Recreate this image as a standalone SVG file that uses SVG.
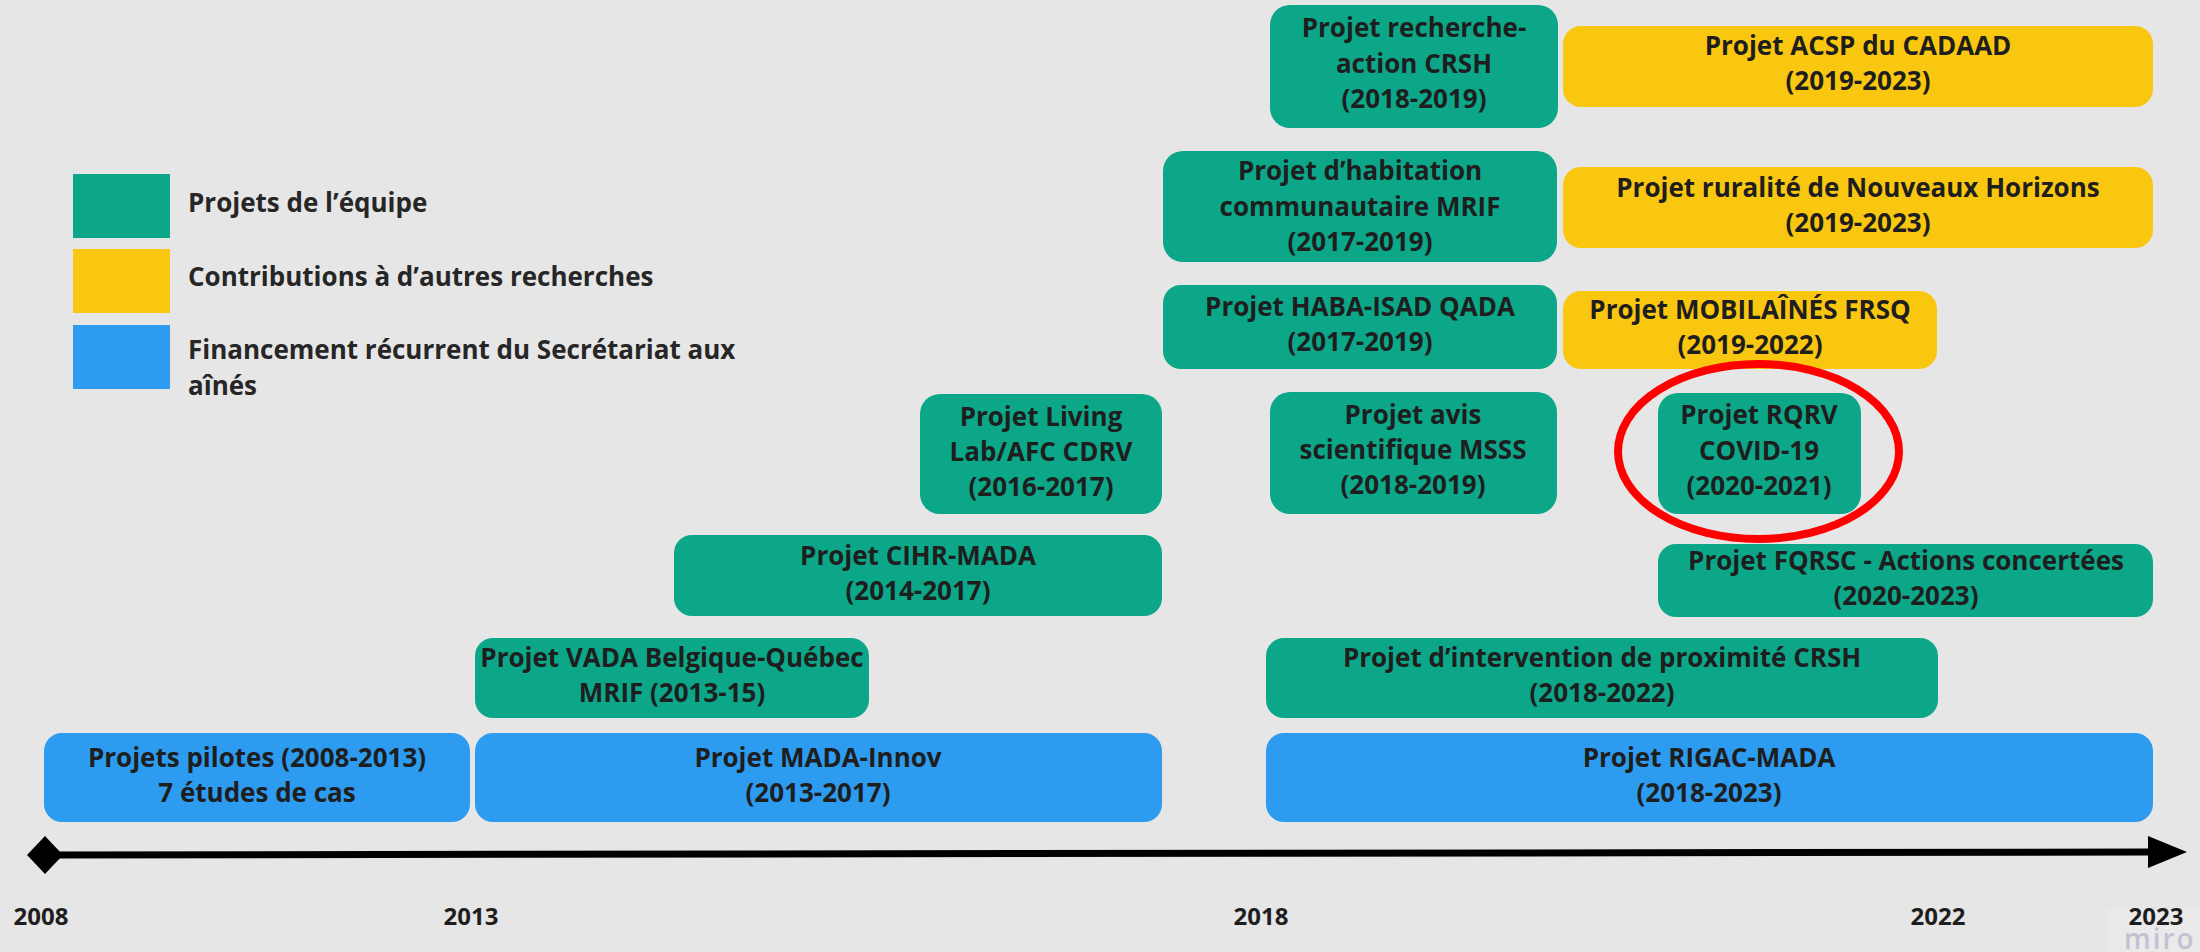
<svg xmlns="http://www.w3.org/2000/svg" width="2200" height="952" viewBox="0 0 2200 952">
<defs>
<style>
.bg{fill:#e6e6e6}
.g{fill:#0ca789}
.y{fill:#fac710}
.b{fill:#2d9bf0}
text{font-family:"Open Sans","Noto Sans","Liberation Sans",sans-serif;font-weight:700;font-size:26px;fill:#1e1e1e}
.c{text-anchor:middle}
.yr{font-size:24px;text-anchor:middle}
.leg{fill:#262626}
.miro{font-weight:600;font-size:28px;fill:#c6c1d2;letter-spacing:2px}
</style>
<marker id="diamond" markerUnits="userSpaceOnUse" markerWidth="40" markerHeight="40" viewBox="-20 -20 40 40" refX="0" refY="0" orient="auto">
<polygon points="-18,0 0,-19 18,0 0,19" fill="#000"/>
</marker>
<marker id="arrow" markerUnits="userSpaceOnUse" markerWidth="44" markerHeight="40" viewBox="0 -20 44 40" refX="2" refY="0" orient="auto">
<polygon points="0,-16 39,0 0,16" fill="#000"/>
</marker>
</defs>
<rect class="bg" x="0" y="0" width="2200" height="952"/>

<g id="watermark">
<rect x="2107" y="909" width="93" height="43" fill="#eaeaea"/>
<text class="miro" x="2124" y="949">miro</text>
</g>

<g id="legend">
<rect class="g" x="73" y="174" width="97" height="64"/>
<rect class="y" x="73" y="249" width="97" height="64"/>
<rect class="b" x="73" y="325" width="97" height="64"/>
<text class="leg" x="188" y="212">Projets de l’équipe</text>
<text class="leg" x="188" y="286">Contributions à d’autres recherches</text>
<text class="leg" x="188" y="359">Financement récurrent du Secrétariat aux</text>
<text class="leg" x="188" y="395">aînés</text>
</g>

<g id="connectors">
<line x1="45" y1="855" x2="2150" y2="852" stroke="#000" stroke-width="7" marker-start="url(#diamond)" marker-end="url(#arrow)"/>
</g>

<g id="years">
<text class="yr" x="41" y="925">2008</text>
<text class="yr" x="471" y="925">2013</text>
<text class="yr" x="1261" y="925">2018</text>
<text class="yr" x="1938" y="925">2022</text>
<text class="yr" x="2156" y="925">2023</text>
</g>

<g id="n-pilotes">
<rect class="b" x="44" y="733" width="426" height="89" rx="18"/>
<text class="c" x="257" y="767">Projets pilotes (2008-2013)</text>
<text class="c" x="257" y="802">7 études de cas</text>
</g>
<g id="n-mada-innov">
<rect class="b" x="475" y="733" width="687" height="89" rx="18"/>
<text class="c" x="818" y="767">Projet MADA-Innov</text>
<text class="c" x="818" y="802">(2013-2017)</text>
</g>
<g id="n-rigac">
<rect class="b" x="1266" y="733" width="887" height="89" rx="18"/>
<text class="c" x="1709" y="767">Projet RIGAC-MADA</text>
<text class="c" x="1709" y="802">(2018-2023)</text>
</g>
<g id="n-vada">
<rect class="g" x="475" y="638" width="394" height="80" rx="18"/>
<text class="c" x="672" y="667">Projet VADA Belgique-Québec</text>
<text class="c" x="672" y="702">MRIF (2013-15)</text>
</g>
<g id="n-proximite">
<rect class="g" x="1266" y="638" width="672" height="80" rx="18"/>
<text class="c" x="1602" y="667">Projet d’intervention de proximité CRSH</text>
<text class="c" x="1602" y="702">(2018-2022)</text>
</g>
<g id="n-cihr">
<rect class="g" x="674" y="535" width="488" height="81" rx="18"/>
<text class="c" x="918" y="565">Projet CIHR-MADA</text>
<text class="c" x="918" y="600">(2014-2017)</text>
</g>
<g id="n-fqrsc">
<rect class="g" x="1658" y="544" width="495" height="73" rx="18"/>
<text class="c" x="1906" y="570">Projet FQRSC - Actions concertées</text>
<text class="c" x="1906" y="605">(2020-2023)</text>
</g>
<g id="n-livinglab">
<rect class="g" x="920" y="394" width="242" height="120" rx="20"/>
<text class="c" x="1041" y="426">Projet Living</text>
<text class="c" x="1041" y="461">Lab/AFC CDRV</text>
<text class="c" x="1041" y="496">(2016-2017)</text>
</g>
<g id="n-avis">
<rect class="g" x="1270" y="392" width="287" height="122" rx="20"/>
<text class="c" x="1413" y="424">Projet avis</text>
<text class="c" x="1413" y="459">scientifique MSSS</text>
<text class="c" x="1413" y="494">(2018-2019)</text>
</g>
<g id="n-rqrv">
<rect class="g" x="1658" y="393" width="203" height="121" rx="20"/>
<text class="c" x="1759" y="424">Projet RQRV</text>
<text class="c" x="1759" y="460">COVID-19</text>
<text class="c" x="1759" y="495">(2020-2021)</text>
</g>
<g id="n-haba">
<rect class="g" x="1163" y="285" width="394" height="84" rx="18"/>
<text class="c" x="1360" y="316">Projet HABA-ISAD QADA</text>
<text class="c" x="1360" y="351">(2017-2019)</text>
</g>
<g id="n-mobilaines">
<rect class="y" x="1563" y="291" width="374" height="78" rx="18"/>
<text class="c" x="1750" y="319">Projet MOBILAÎNÉS FRSQ</text>
<text class="c" x="1750" y="354">(2019-2022)</text>
</g>
<g id="n-habitation">
<rect class="g" x="1163" y="151" width="394" height="111" rx="20"/>
<text class="c" x="1360" y="180">Projet d’habitation</text>
<text class="c" x="1360" y="216">communautaire MRIF</text>
<text class="c" x="1360" y="251">(2017-2019)</text>
</g>
<g id="n-ruralite">
<rect class="y" x="1563" y="167" width="590" height="81" rx="18"/>
<text class="c" x="1858" y="197">Projet ruralité de Nouveaux Horizons</text>
<text class="c" x="1858" y="232">(2019-2023)</text>
</g>
<g id="n-recherche-action">
<rect class="g" x="1270" y="5" width="288" height="123" rx="20"/>
<text class="c" x="1414" y="37">Projet recherche-</text>
<text class="c" x="1414" y="73">action CRSH</text>
<text class="c" x="1414" y="108">(2018-2019)</text>
</g>
<g id="n-acsp">
<rect class="y" x="1563" y="26" width="590" height="81" rx="18"/>
<text class="c" x="1858" y="55">Projet ACSP du CADAAD</text>
<text class="c" x="1858" y="90">(2019-2023)</text>
</g>

<g id="highlight">
<ellipse cx="1758.5" cy="451.5" rx="140.5" ry="87.5" fill="none" stroke="#ff0000" stroke-width="8"/>
</g>
</svg>
